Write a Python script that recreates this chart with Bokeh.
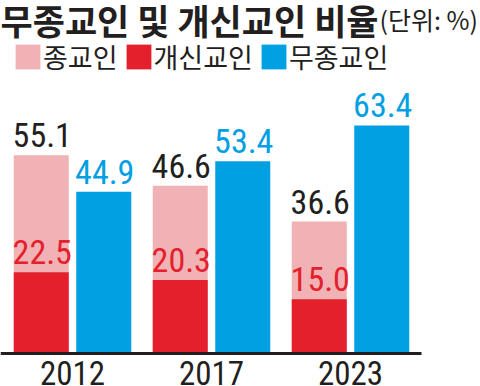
from bokeh.plotting import figure
from bokeh.models import (Range1d, FixedTicker, Legend, LegendItem, Label,
                          ColumnDataSource)
from bokeh.core.properties import value
from bokeh.transform import dodge
from bokeh.embed import file_html
from bokeh.resources import INLINE

# ---- data -------------------------------------------------------------
years = ["2012", "2017", "2023"]
religious = [55.1, 46.6, 36.6]      # 종교인
protestant = [22.5, 20.3, 15.0]     # 개신교인
nonreligious = [44.9, 53.4, 63.4]   # 무종교인
series_names = ["종교인", "개신교인", "무종교인"]
title_text = "무종교인 및 개신교인 비율"
unit_text = "(단위: %)"

# ---- style ------------------------------------------------------------
PINK = "#f0b2b4"
RED = "#e3202b"
BLUE = "#00a0e3"
INK = "#231f20"
NUM_FONT = "Roboto Condensed, DejaVu Sans Condensed, Roboto"
KR_FONT = "Noto Sans CJK KR"

W, H = 480, 386
GROUP_PX = 139.0          # pixels per year group
X0_PX = 72.0              # pixel centre of first group
Y_PX = 3.59               # pixels per percentage point
BASE_PX = 352.5           # pixel row of the zero line (from top)

x_start = -X0_PX / GROUP_PX
x_end = x_start + W / GROUP_PX
y_start = -(H - BASE_PX) / Y_PX
y_end = BASE_PX / Y_PX

OFF = 31.25 / GROUP_PX
BAR_W = 55.0 / GROUP_PX

idx = list(range(len(years)))
src = ColumnDataSource(dict(
    x=idx,
    rel=religious, prot=protestant, non=nonreligious,
    rel_t=[f"{v:.1f}" for v in religious],
    prot_t=[f"{v:.1f}" for v in protestant],
    non_t=[f"{v:.1f}" for v in nonreligious],
))

p = figure(width=W, height=H, x_range=Range1d(x_start, x_end),
           y_range=Range1d(y_start, y_end), output_backend="svg",
           toolbar_location=None, min_border=0, y_axis_location=None,
           outline_line_color=None, background_fill_color="white",
           border_fill_color="white")
p.xgrid.visible = False
p.ygrid.visible = False

xl = dodge("x", -OFF, range=p.x_range)
xr = dodge("x", OFF, range=p.x_range)

r_rel = p.vbar(x=xl, top="rel", bottom=0, width=BAR_W, source=src,
               fill_color=PINK, line_color=None)
r_prot = p.vbar(x=xl, top="prot", bottom=0, width=BAR_W, source=src,
                fill_color=RED, line_color=None)
r_non = p.vbar(x=xr, top="non", bottom=0, width=BAR_W, source=src,
               fill_color=BLUE, line_color=None)

common = dict(source=src, text_align="center", text_baseline="middle",
              y_offset=-20, x_offset=1, text_font=value(NUM_FONT),
              text_font_size="34px")
p.text(x=xl, y="rel", text="rel_t", text_color=INK, **common)
p.text(x=xl, y="prot", text="prot_t", text_color=RED, **common)
p.text(x=xr, y="non", text="non_t", text_color=BLUE, **common)

ax = p.xaxis[0]
ax.fixed_location = 0
ax.ticker = FixedTicker(ticks=idx)
ax.major_label_overrides = {i: y for i, y in zip(idx, years)}
ax.bounds = (x_start, x_start + 421 / GROUP_PX)
ax.major_tick_in = 0
ax.major_tick_out = 0
ax.minor_tick_in = 0
ax.minor_tick_out = 0
ax.axis_line_width = 3
ax.axis_line_color = INK
ax.major_label_standoff = 8
ax.major_label_text_font = NUM_FONT
ax.major_label_text_font_size = "33px"
ax.major_label_text_color = INK

p.add_layout(Label(x=0, y=H - 19, x_units="screen", y_units="screen",
                   text=title_text, text_font=KR_FONT, text_font_style="bold",
                   text_font_size="35px", text_baseline="middle",
                   text_color=INK))
p.add_layout(Label(x=379, y=H - 18, x_units="screen", y_units="screen",
                   text=unit_text, text_font=KR_FONT,
                   text_font_size="25px", text_baseline="middle",
                   text_color=INK))

legend = Legend(items=[LegendItem(label=series_names[0], renderers=[r_rel]),
                       LegendItem(label=series_names[1], renderers=[r_prot]),
                       LegendItem(label=series_names[2], renderers=[r_non])],
                orientation="horizontal", location=(12, H - 76),
                glyph_width=31, glyph_height=31, label_standoff=0,
                spacing=5, padding=0, margin=0, border_line_color=None,
                background_fill_alpha=0, label_text_font=KR_FONT,
                label_text_font_size="27px", label_text_color=INK)
p.add_layout(legend)

open("out.html", "w").write(file_html(p, INLINE))
